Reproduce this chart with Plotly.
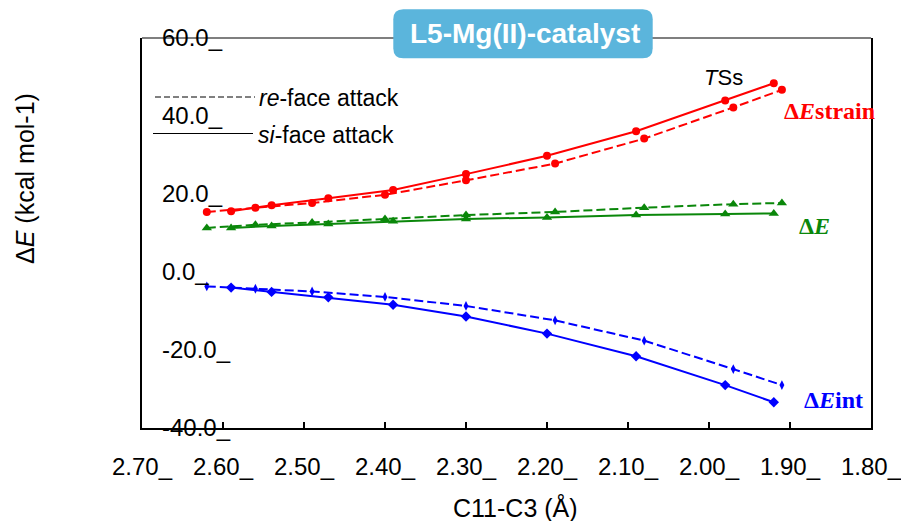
import plotly.graph_objects as go

# ---------------- data ----------------
x_re = [2.62, 2.56, 2.49, 2.40, 2.30, 2.19, 2.08, 1.97, 1.91]
x_si = [2.59, 2.54, 2.47, 2.39, 2.30, 2.20, 2.09, 1.98, 1.92]

strain_re = [15.4, 16.5, 17.7, 19.8, 23.5, 27.8, 34.2, 42.2, 46.7]
strain_si = [15.6, 17.1, 18.9, 21.0, 25.1, 29.8, 36.1, 44.0, 48.4]
de_re = [11.3, 12.1, 12.7, 13.6, 14.6, 15.4, 16.5, 17.4, 17.7]
de_si = [11.3, 11.8, 12.3, 13.0, 13.6, 14.0, 14.6, 14.9, 15.0]
int_re = [-3.7, -4.3, -5.0, -6.4, -8.7, -12.4, -17.6, -24.9, -29.0]
int_si = [-4.0, -5.1, -6.5, -8.4, -11.4, -15.8, -21.6, -29.0, -33.4]

x_tickvals = [2.70, 2.60, 2.50, 2.40, 2.30, 2.20, 2.10, 2.00, 1.90, 1.80]
x_ticktext = ["2.70_", "2.60_", "2.50_", "2.40_", "2.30_", "2.20_", "2.10_", "2.00_", "1.90_", "1.80_"]
y_tickvals = [60, 40, 20, 0, -20, -40]
y_ticktext = ["60.0_", "40.0_", "20.0_", "0.0_", "-20.0_", "-40.0_"]

# ---------------- layout geometry ----------------
W, H = 901, 521
L, R, T, B = 142, 30, 38, 93
PW, PH = W - L - R, H - T - B


def px(xp):
    return (xp - L) / PW


def py(yp):
    return (H - B - yp) / PH


SANS = "Arial, Liberation Sans, sans-serif"
SERIF = "Times New Roman, Liberation Serif, serif"
RED, GREEN, BLUE = "#FF0000", "#0A870A", "#0000FF"
DASH = "9px,4px"

fig = go.Figure()


def add(x, y, color, dash, symbol, size):
    fig.add_trace(go.Scatter(
        x=x, y=y, mode="lines+markers",
        line=dict(color=color, width=2, dash=dash),
        marker=dict(symbol=symbol, size=size, color=color,
                    line=dict(width=0, color=color)),
        showlegend=False, hoverinfo="skip"))


add(x_re, strain_re, RED, DASH, "circle", 8)
add(x_si, strain_si, RED, "solid", "circle", 8)
add(x_re, de_re, GREEN, DASH, "triangle-up", 9)
add(x_si, de_si, GREEN, "solid", "triangle-up", 9)
add(x_re, int_re, BLUE, DASH, "diamond-tall", 7)
add(x_si, int_si, BLUE, "solid", "diamond", 8)

shapes = []
# top border (thin)
shapes.append(dict(type="line", xref="paper", yref="paper", x0=0, x1=1, y0=1, y1=1,
                   line=dict(color="black", width=1.2)))
# legend lines
shapes.append(dict(type="line", xref="paper", yref="paper",
                   x0=px(155), x1=px(255), y0=py(97), y1=py(97),
                   line=dict(color="black", width=1, dash="6px,3px")))
shapes.append(dict(type="line", xref="paper", yref="paper",
                   x0=px(153), x1=px(253), y0=py(133.5), y1=py(133.5),
                   line=dict(color="black", width=1)))

# rounded title box
bx0, bx1, by0, by1, r = 393.3, 652.7, 9.3, 58.3, 10
rx, ry = r / PW, r / PH
X0, X1, Y0, Y1 = px(bx0), px(bx1), py(by1), py(by0)
path = (f"M {X0+rx},{Y0} L {X1-rx},{Y0} Q {X1},{Y0} {X1},{Y0+ry} "
        f"L {X1},{Y1-ry} Q {X1},{Y1} {X1-rx},{Y1} "
        f"L {X0+rx},{Y1} Q {X0},{Y1} {X0},{Y1-ry} "
        f"L {X0},{Y0+ry} Q {X0},{Y0} {X0+rx},{Y0} Z")
shapes.append(dict(type="path", xref="paper", yref="paper", path=path,
                   fillcolor="#5BB5DC", line=dict(width=0)))

annotations = []


def ann(text, x, y, size, color="black", family=SANS, xanchor="left", **kw):
    annotations.append(dict(text=text, x=px(x), y=py(y), xref="paper", yref="paper",
                            showarrow=False, xanchor=xanchor, yanchor="middle",
                            font=dict(size=size, color=color, family=family), **kw))


ann("<b>L5-Mg(II)-catalyst</b>", 525, 33, 28, "white", xanchor="center")
ann("<i>re</i>-face attack", 257, 98, 23)
ann("<i>si</i>-face attack", 256, 135, 23)
ann("<i>T</i>Ss", 723.5, 78, 22, xanchor="center")
ann("<b>Δ<i>E</i>strain</b>", 782, 110.5, 24, RED, SERIF)
ann("<b>Δ<i>E</i></b>", 797, 226, 24, GREEN, SERIF)
ann("<b>Δ<i>E</i>int</b>", 802, 400, 24, BLUE, SERIF)
ann("Δ<i>E</i> (kcal mol-1)", 25, 179, 25, xanchor="center", textangle=-90)
ann("C11-C3 (Å)", 515, 507, 25, xanchor="center")

fig.update_layout(
    width=W, height=H,
    margin=dict(l=L, r=R, t=T, b=B, pad=0, autoexpand=False),
    paper_bgcolor="white", plot_bgcolor="white",
    font=dict(family=SANS, size=23, color="black"),
    shapes=shapes, annotations=annotations,
    xaxis=dict(range=[2.70, 1.80], tickmode="array", tickvals=x_tickvals,
               ticktext=x_ticktext, ticks="inside", ticklen=6, tickwidth=1.5,
               tickcolor="black", showline=True, linecolor="black", linewidth=2,
               mirror=False, showgrid=False, zeroline=False, automargin=False,
               ticklabeloverflow="allow",
               tickfont=dict(size=24, family=SANS, color="black"),
               ticklabelstandoff=16),
    yaxis=dict(range=[-40, 60], tickmode="array", tickvals=y_tickvals,
               ticktext=y_ticktext, ticks="", showline=True, linecolor="black",
               linewidth=1.5, mirror=True, showgrid=False, zeroline=False,
               automargin=False,
               ticklabelposition="inside", ticklabeloverflow="allow",
               tickfont=dict(size=24, family=SANS, color="black"),
               ticklabelstandoff=22),
)

fig.write_html("out.html")
